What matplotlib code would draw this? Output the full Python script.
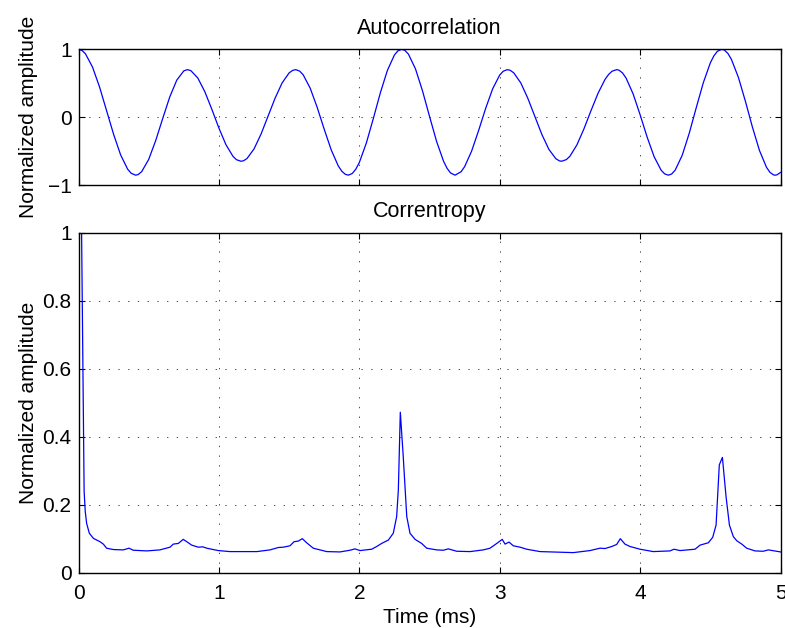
import matplotlib
matplotlib.use("Agg")
import matplotlib.pyplot as plt

plt.rcParams['font.family'] = ['Liberation Sans', 'DejaVu Sans']
plt.rcParams['font.size'] = 15

# Autokorrelation (dichter an den Extremstellen)
acf_time = [
    0.000, 0.025, 0.050, 0.100, 0.150, 0.200, 0.250, 0.300, 0.350, 0.375,
    0.407, 0.425, 0.450, 0.500, 0.550, 0.600, 0.650, 0.700, 0.750, 0.775,
    0.800, 0.850, 0.900, 0.950, 1.000, 1.050, 1.100, 1.125, 1.157, 1.175,
    1.200, 1.250, 1.300, 1.350, 1.400, 1.450, 1.500, 1.525, 1.547, 1.575,
    1.600, 1.650, 1.700, 1.750, 1.800, 1.850, 1.875, 1.900, 1.922, 1.950,
    1.975, 2.000, 2.050, 2.100, 2.150, 2.200, 2.250, 2.275, 2.302, 2.325,
    2.350, 2.400, 2.450, 2.500, 2.550, 2.600, 2.625, 2.650, 2.682, 2.725,
    2.750, 2.800, 2.850, 2.900, 2.950, 3.000, 3.025, 3.054, 3.075, 3.100,
    3.150, 3.200, 3.250, 3.300, 3.350, 3.400, 3.425, 3.441, 3.475, 3.500,
    3.550, 3.600, 3.650, 3.700, 3.750, 3.775, 3.800, 3.833, 3.850, 3.875,
    3.900, 3.950, 4.000, 4.050, 4.100, 4.150, 4.175, 4.201, 4.225, 4.250,
    4.300, 4.350, 4.400, 4.450, 4.500, 4.525, 4.550, 4.581, 4.600, 4.625,
    4.650, 4.700, 4.750, 4.800, 4.850, 4.900, 4.925, 4.950, 4.961, 4.975,
    5.000,
]
acf_values = [
    1.000, 0.983, 0.932, 0.737, 0.444, 0.098, -0.253, -0.556, -0.767, -0.827,
    -0.855, -0.846, -0.803, -0.623, -0.344, -0.018, 0.298, 0.546, 0.682, 0.700,
    0.686, 0.576, 0.374, 0.114, -0.161, -0.405, -0.577, -0.627, -0.650, -0.643,
    -0.610, -0.469, -0.250, 0.014, 0.279, 0.504, 0.652, 0.689, 0.700, 0.679,
    0.625, 0.428, 0.144, -0.178, -0.483, -0.718, -0.796, -0.842, -0.855, -0.830,
    -0.767, -0.669, -0.382, -0.019, 0.360, 0.689, 0.916, 0.977, 1.000, 0.983,
    0.928, 0.712, 0.388, 0.012, -0.355, -0.650, -0.754, -0.823, -0.855, -0.804,
    -0.730, -0.500, -0.195, 0.130, 0.419, 0.621, 0.677, 0.700, 0.690, 0.653,
    0.505, 0.279, 0.011, -0.254, -0.474, -0.613, -0.644, -0.650, -0.625, -0.576,
    -0.408, -0.172, 0.095, 0.351, 0.556, 0.628, 0.677, 0.700, 0.692, 0.651,
    0.576, 0.343, 0.035, -0.294, -0.584, -0.783, -0.836, -0.855, -0.837, -0.780,
    -0.561, -0.236, 0.141, 0.507, 0.800, 0.902, 0.970, 1.000, 0.989, 0.939,
    0.853, 0.586, 0.233, -0.148, -0.491, -0.739, -0.814, -0.851, -0.855, -0.850,
    -0.815,
]

corr_time = [
    0.022, 0.040, 0.048, 0.058, 0.077, 0.106, 0.153, 0.177, 0.200, 0.248,
    0.319, 0.360, 0.390, 0.486, 0.580, 0.652, 0.675, 0.711, 0.746, 0.782,
    0.806, 0.853, 0.885, 0.913, 0.996, 1.079, 1.270, 1.364, 1.423, 1.459,
    1.506, 1.535, 1.566, 1.594, 1.625, 1.672, 1.768, 1.862, 1.934, 1.969,
    2.005, 2.088, 2.124, 2.159, 2.207, 2.242, 2.266, 2.278, 2.292, 2.313,
    2.338, 2.361, 2.397, 2.444, 2.480, 2.551, 2.598, 2.634, 2.694, 2.789,
    2.883, 2.931, 2.979, 3.018, 3.038, 3.066, 3.097, 3.145, 3.192, 3.287,
    3.524, 3.643, 3.714, 3.750, 3.798, 3.833, 3.859, 3.892, 3.928, 3.999,
    4.094, 4.213, 4.241, 4.284, 4.391, 4.427, 4.486, 4.517, 4.541, 4.564,
    4.586, 4.612, 4.636, 4.664, 4.688, 4.724, 4.759, 4.818, 4.877, 4.913,
    5.000,
]
corr_values = [
    1.0, 0.24, 0.18, 0.145, 0.116, 0.101, 0.091, 0.084, 0.072, 0.068,
    0.067, 0.072, 0.066, 0.064, 0.067, 0.075, 0.084, 0.086, 0.098, 0.088,
    0.081, 0.075, 0.076, 0.072, 0.065, 0.062, 0.062, 0.067, 0.074, 0.075,
    0.079, 0.091, 0.093, 0.100, 0.088, 0.072, 0.062, 0.061, 0.066, 0.070,
    0.065, 0.069, 0.077, 0.086, 0.096, 0.116, 0.165, 0.243, 0.472, 0.341,
    0.165, 0.116, 0.098, 0.086, 0.072, 0.067, 0.066, 0.070, 0.063, 0.062,
    0.067, 0.072, 0.086, 0.098, 0.084, 0.090, 0.079, 0.075, 0.069, 0.062,
    0.059, 0.065, 0.072, 0.071, 0.077, 0.083, 0.100, 0.084, 0.077, 0.069,
    0.062, 0.064, 0.069, 0.065, 0.069, 0.081, 0.088, 0.104, 0.140, 0.317,
    0.339, 0.224, 0.140, 0.106, 0.094, 0.084, 0.072, 0.064, 0.063, 0.067,
    0.061,
]

x_ticks = [0, 1, 2, 3, 4, 5]
top_yticks = [-1, 0, 1]
bottom_yticks = [0, 0.2, 0.4, 0.6, 0.8, 1]
bottom_ylabels = ['0', '0.2', '0.4', '0.6', '0.8', '1']

fig = plt.figure(figsize=(7.85, 6.28), dpi=100)
ax1 = fig.add_axes([0.1, 0.7054, 0.8943, 0.2161])
ax2 = fig.add_axes([0.1, 0.0881, 0.8943, 0.5414])


def matlab_style(ax):
    ax.tick_params(direction='in', length=4, width=0.8, top=True, right=True,
                   colors='k')
    ax.tick_params(axis='y', pad=5)
    ax.tick_params(axis='x', pad=8)
    ax.grid(True, color='0.3', linestyle=(0, (1.4, 8.6)), linewidth=0.7)
    for sp in ax.spines.values():
        sp.set_linewidth(1.0)
        sp.set_color('k')


ax1.plot(acf_time, acf_values, color='#0000ff', linewidth=0.9)
ax1.set_xlim(0, 5)
ax1.set_ylim(-1, 1)
ax1.set_xticks(x_ticks)
ax1.set_xticklabels([])
ax1.set_yticks(top_yticks)
ax1.set_title('Autocorrelation', fontsize=15.5, pad=11)
ax1.set_ylabel('Normalized amplitude')
ax1.yaxis.set_label_coords(-0.058, 0.5)
matlab_style(ax1)

ax2.plot(corr_time, corr_values, color='#0000ff', linewidth=0.9)
ax2.set_xlim(0, 5)
ax2.set_ylim(0, 1)
ax2.set_xticks(x_ticks)
ax2.set_yticks(bottom_yticks)
ax2.set_yticklabels(bottom_ylabels)
ax2.set_title('Correntropy', fontsize=15.5, pad=11)
ax2.set_xlabel('Time (ms)', labelpad=3.5)
ax2.set_ylabel('Normalized amplitude')
ax2.yaxis.set_label_coords(-0.058, 0.5)
matlab_style(ax2)

fig.savefig('out.png', dpi=100)
